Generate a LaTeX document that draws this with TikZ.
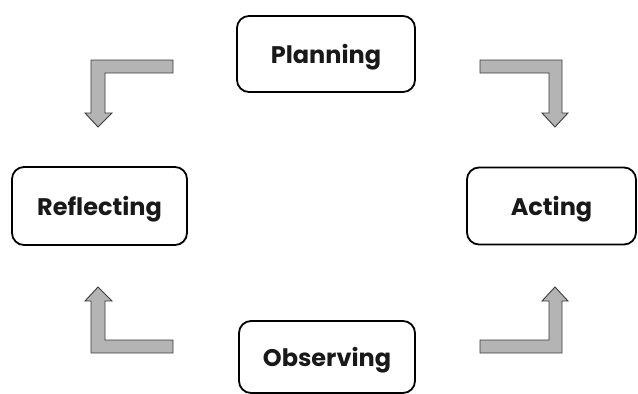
\documentclass[tikz,border=0pt]{standalone}
\usepackage{fontspec}
\setmainfont{Poppins}[BoldFont={* Bold}]
\definecolor{arrowfill}{HTML}{B4B4B4}
\definecolor{arrowline}{HTML}{3C3C3C}
\begin{document}
\begin{tikzpicture}[x=1pt,y=-1pt,
  stagebox/.style={draw=black, line width=1.8pt, rounded corners=12pt, fill=white,
    inner sep=0pt, text height=22pt, text depth=4pt,
    font=\fontsize{24}{28}\selectfont\bfseries, text=black!90},
  bentarrow/.style={fill=arrowfill, draw=arrowline, line width=0.9pt, line join=miter}]
\useasboundingbox (0,0) rectangle (638,394);
\node[stagebox, minimum width=178pt, minimum height=76pt] (plan) at (326,54) {Planning};
\node[stagebox, minimum width=175pt, minimum height=78pt] (refl) at (99.5,206) {Reflecting};
\node[stagebox, minimum width=169pt, minimum height=77pt] (act) at (551.5,206) {Acting};
\node[stagebox, minimum width=176pt, minimum height=72pt] (obs) at (327,357) {Observing};
% upper-left arrow
\draw[bentarrow] (173,60) -- (91,60) -- (91,113) -- (85,113) -- (98,127) -- (112,113) -- (105,113) -- (105,73) -- (173,73) -- cycle;
% upper-right arrow
\draw[bentarrow] (480,60) -- (562,60) -- (562,113) -- (568,113) -- (555,127) -- (542,113) -- (549,113) -- (549,73) -- (480,73) -- cycle;
% lower-left arrow
\draw[bentarrow] (173,353) -- (91,353) -- (91,301) -- (85,301) -- (98,287) -- (112,301) -- (105,301) -- (105,340) -- (173,340) -- cycle;
% lower-right arrow
\draw[bentarrow] (480,353) -- (562,353) -- (562,301) -- (568,301) -- (555,287) -- (542,301) -- (549,301) -- (549,340) -- (480,340) -- cycle;
\end{tikzpicture}
\end{document}
